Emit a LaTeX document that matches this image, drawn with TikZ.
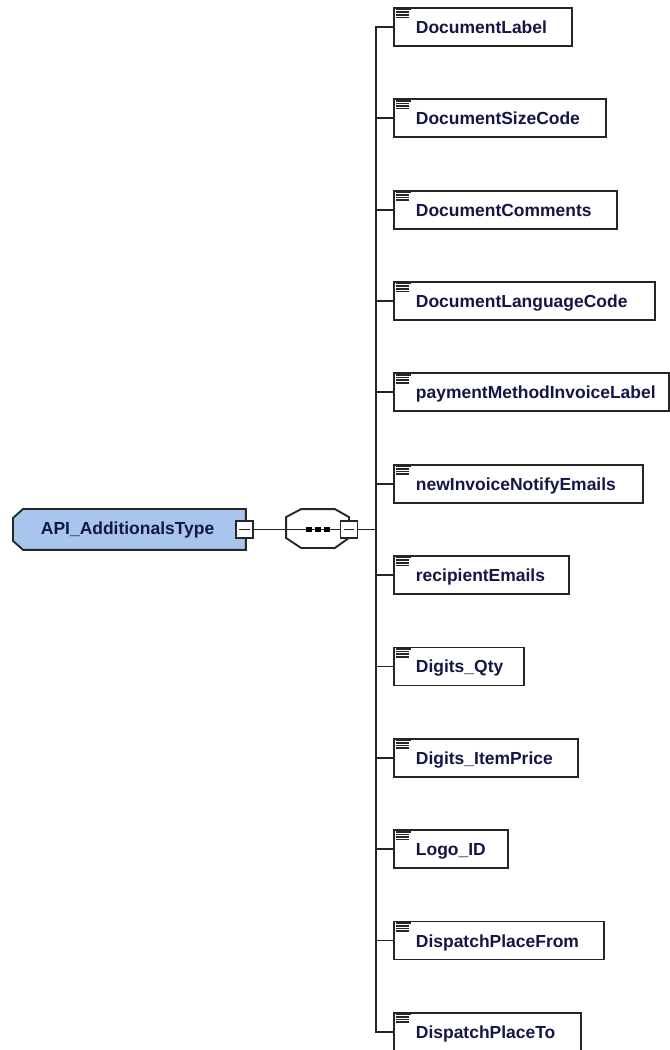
\documentclass[tikz,border=0pt]{standalone}
\usepackage{fontspec}
\setmainfont{Liberation Sans}
\usetikzlibrary{calc}
\definecolor{tipoazul}{RGB}{168,198,237}
\definecolor{textoazul}{RGB}{22,22,70}

\begin{document}
\begin{tikzpicture}[x=0.75pt, y=-0.75pt, line width=1.4pt, draw=black!85,
  elem/.style={draw=black!85, fill=white, minimum height=38*0.75pt, inner sep=0pt, anchor=north west},
  etiq/.style={anchor=base west, inner sep=0pt, text=textoazul, font=\fontsize{13.1pt}{15pt}\selectfont\bfseries},
  menos/.style={draw=black!85, fill=white, minimum size=17*0.75pt, inner sep=0pt,
    path picture={\draw[line width=1pt] ([xshift=-4pt]path picture bounding box.center) -- ([xshift=4pt]path picture bounding box.center);}}]
  \useasboundingbox (0,0) rectangle (670,1050);
  % tipo complejo (raiz)
  \node[minimum width=231*0.75pt, minimum height=39*0.75pt, inner sep=0pt, anchor=north west] (raiz) at (13,509) {};
  \draw[fill=tipoazul] ($(raiz.north west)+(10,0)$) -- (raiz.north east) -- (raiz.south east)
    -- ($(raiz.south west)+(10,0)$) -- ($(raiz.south west)+(0,-9)$) -- ($(raiz.north west)+(0,9)$) -- cycle;
  \node[etiq] (raiztexto) at (40,534) {API\_AdditionalsType};
  \node[menos] (raizmenos) at (244.5,529.5) {};
  % secuencia
  \node[minimum width=61*0.75pt, minimum height=37*0.75pt, inner sep=0pt] (seq) at (317.5,528.5) {};
  \draw[fill=white] ($(seq.north west)+(15,0)$) -- ($(seq.north east)+(-14,0)$) -- ($(seq.north east)+(0,8)$)
    -- ($(seq.south east)+(0,-10)$) -- ($(seq.south east)+(-14,0)$) -- ($(seq.south west)+(15,0)$)
    -- ($(seq.south west)+(0,-10)$) -- ($(seq.north west)+(0,8)$) -- cycle;
  \node[menos] (seqmenos) at (349,529.5) {};
  \draw (raizmenos.east) -- (seqmenos.west);
  \foreach \d in {-9,0,9}
    \fill[black] ($(seq.center)+(\d-3,-2)$) rectangle +(6,5.5);
  \node[menos] at (seqmenos) {};
  \coordinate (bus) at (376,529.5);
  \draw (seqmenos.east) -- (bus);
  % elementos hijos
  \foreach \nombre/\der [count=\i from 0] in {DocumentLabel/571, DocumentSizeCode/605,
      DocumentComments/616, DocumentLanguageCode/654, paymentMethodInvoiceLabel/668,
      newInvoiceNotifyEmails/642, recipientEmails/568, Digits\_Qty/523,
      Digits\_ItemPrice/577, Logo\_ID/507, DispatchPlaceFrom/603, DispatchPlaceTo/580} {
    \node[elem, minimum width=(\der-393)*0.75pt] (c\i) at (393,7+91.36*\i) {};
    \node[etiq] (t\i) at ($(c\i.west)+(22,6.5)$) {\nombre};
    \draw[line width=1.2pt] ($(c\i.north west)+(3,2.5)$) -- +(15,0);
    \foreach \k in {1,2,3}
      \draw[line width=1.2pt] ($(c\i.north west)+(3,2.5+2.6*\k)$) -- +(13,0);
    \draw (c\i.west) -| (bus);
  }
\end{tikzpicture}
\end{document}
